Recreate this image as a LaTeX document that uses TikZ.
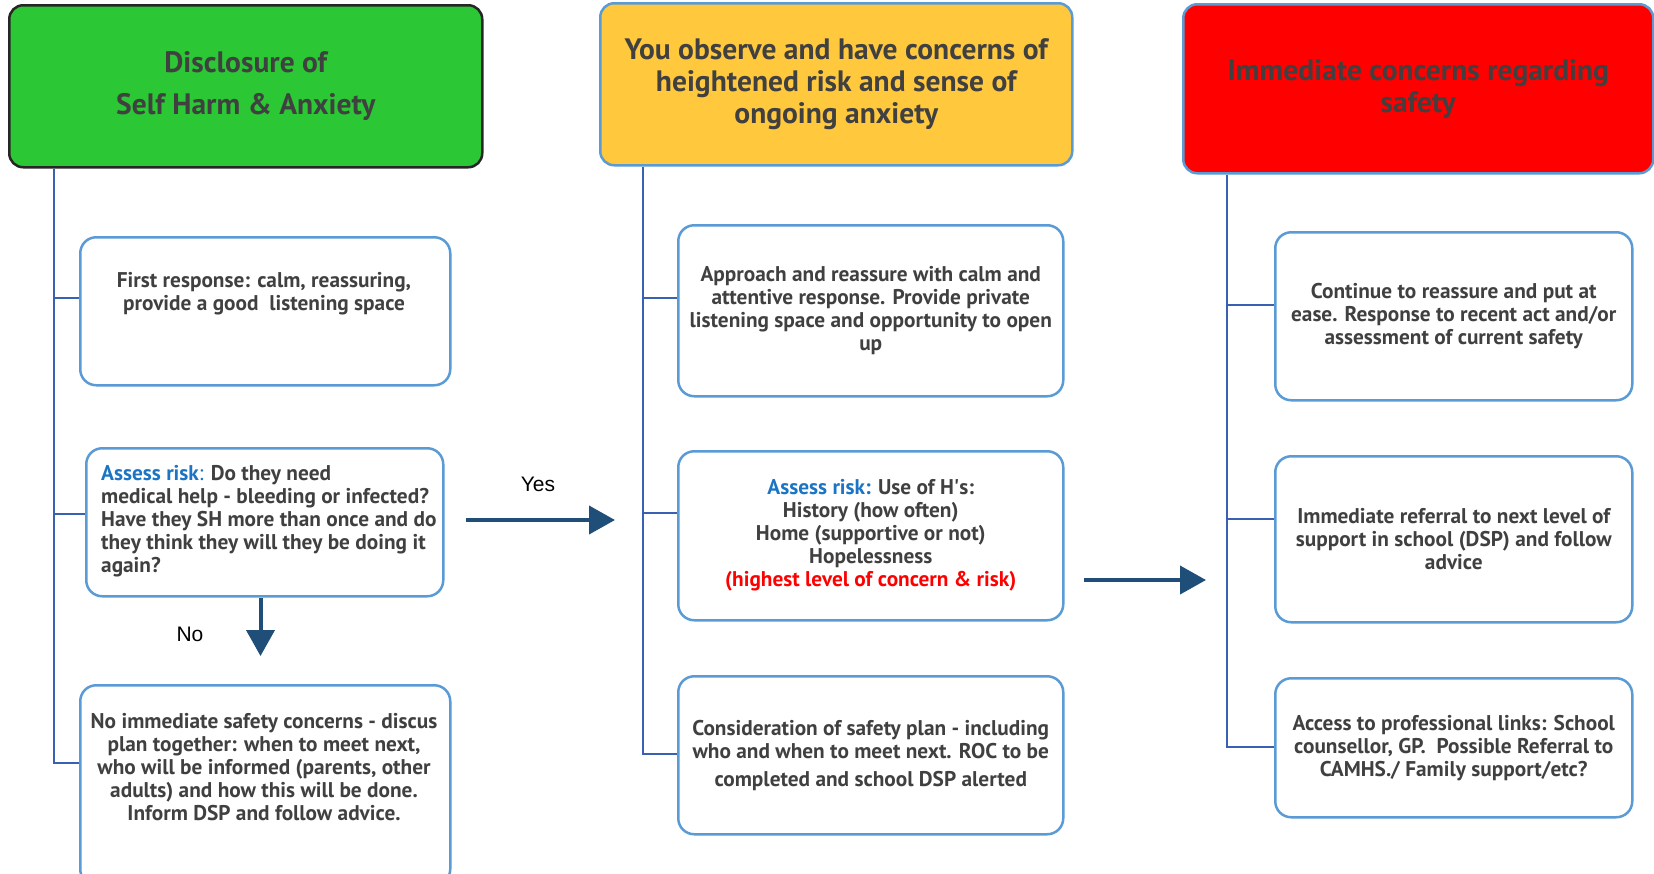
\documentclass[tikz,border=0pt]{standalone}
\usepackage{fontspec}
\setmainfont{PT Sans}
\newfontfamily\arialfont{Liberation Sans}
\usetikzlibrary{arrows.meta}
\definecolor{txt}{HTML}{404040}
\definecolor{boxline}{HTML}{5B9BD5}
\definecolor{conn}{HTML}{3A60B2}
\definecolor{arr}{HTML}{1F4E79}
\definecolor{gfill}{HTML}{2BC734}
\definecolor{yfill}{HTML}{FFC83D}
\definecolor{rfill}{HTML}{FF0000}
\definecolor{blu}{HTML}{1B75C4}
\begin{document}
\begin{tikzpicture}[x=1pt,y=-1pt,
  box/.style={draw=boxline, line width=2.5pt, rounded corners=16pt, fill=white,
    anchor=north west, inner sep=0pt, text=txt, align=center,
    font=\fontsize{21.3}{23}\selectfont\bfseries},
  head/.style={line width=2.5pt, rounded corners=14pt, anchor=north west,
    inner sep=0pt, text=txt, align=center,
    font=\fontsize{29.5}{32}\selectfont\bfseries},
  bodytxt/.style={text=txt, inner sep=0pt, font=\fontsize{21.3}{23}\selectfont\bfseries},
  connline/.style={draw=conn, line width=2.8pt},
  flowarrow/.style={draw=arr, line width=4pt, -{Triangle[length=26pt,width=28pt]}},
  lbl/.style={inner sep=0pt, font=\arialfont\fontsize{21}{24}\selectfont}]
\clip (0,0) rectangle (1654,873);
\fill[white] (0,0) rectangle (1654,873);
% headers
\node[head, fill=gfill, draw=black!85, minimum width=473, minimum height=162] (g) at (8,4)
  {Disclosure of\\[10pt]Self Harm \& Anxiety};
\node[head, fill=yfill, draw=boxline, minimum width=472, minimum height=162] (y) at (599,2)
  {You observe and have concerns of\\heightened risk and sense of\\ongoing anxiety};
\node[head, fill=rfill, draw=boxline, minimum width=470, minimum height=169] (r) at (1182,3)
  {Immediate concerns regarding\\safety};
% left column
\node[box, minimum width=370, minimum height=148] (L1) at (79,236) {};
\node[bodytxt, align=center] (L1t) at (264,294) {First response: calm, reassuring,\\provide a good\ \ listening space};
\node[box, minimum width=357, minimum height=148] (L2) at (85,447) {};
\node[bodytxt, align=left, anchor=west] (L2t) at (101,521)
  {\textcolor{blu}{Assess risk}\textcolor{blu}{\mdseries:} Do they need\\medical help - bleeding or infected?\\Have they SH more than once and do\\they think they will they be doing it\\again?};
\node[box, minimum width=370, minimum height=200] (L3) at (79,684) {};
\node[bodytxt, align=center] (L3t) at (264,767)
  {No immediate safety concerns - discus\\plan together: when to meet next,\\who will be informed (parents, other\\adults) and how this will be done.\\Inform DSP and follow advice.};
% middle column
\node[box, minimum width=385, minimum height=171] (M1) at (677,224)
  {Approach and reassure with calm and\\attentive response. Provide private\\listening space and opportunity to open\\up};
\node[box, minimum width=385, minimum height=169] (M2) at (677,450)
  {\textcolor{blu}{Assess risk:} Use of H\textquotesingle s:\\History (how often)\\Home (supportive or not)\\Hopelessness\\\textcolor{rfill}{(highest level of concern \& risk)}};
\node[box, minimum width=385, minimum height=158] (M3) at (677,675)
  {Consideration of safety plan - including\\who and when to meet next. ROC to be\\[5pt]completed and school DSP alerted};
% right column
\node[box, minimum width=357, minimum height=168] (R1) at (1274,231)
  {Continue to reassure and put at\\ease. Response to recent act and/or\\assessment of current safety};
\node[box, minimum width=357, minimum height=166] (R2) at (1274,455)
  {Immediate referral to next level of\\support in school (DSP) and follow\\advice};
\node[box, minimum width=357, minimum height=139] (R3) at (1274,677)
  {Access to professional links: School\\counsellor, GP.\ \ Possible Referral to\\CAMHS./ Family support/etc?};
% connector coordinates
\coordinate (lv1) at (54,298);
\coordinate (lv2) at (54,514);
\coordinate (lv3) at (54,763);
\coordinate (mv1) at (643,298);
\coordinate (mv2) at (643,513);
\coordinate (mv3) at (643,754);
\coordinate (rv1) at (1227,305);
\coordinate (rv2) at (1227,519);
\coordinate (rv3) at (1227,747);
% trunk lines
\draw[connline] (g.south -| lv3) -- (lv3) -- (lv3 -| L3.west);
\draw[connline] (lv1) -- (lv1 -| L1.west);
\draw[connline] (lv2) -- (lv2 -| L2.west);
\draw[connline] (y.south -| mv3) -- (mv3) -- (mv3 -| M3.west);
\draw[connline] (mv1) -- (mv1 -| M1.west);
\draw[connline] (mv2) -- (mv2 -| M2.west);
\draw[connline] (r.south -| rv3) -- (rv3) -- (rv3 -| R3.west);
\draw[connline] (rv1) -- (rv1 -| R1.west);
\draw[connline] (rv2) -- (rv2 -| R2.west);
% flow arrows
\coordinate (ya) at (466,520);
\coordinate (yb) at (615,520);
\draw[flowarrow] (ya) -- (yb);
\node[lbl] (yes) at (538,484) {Yes};
\coordinate (na) at (260.5,598);
\draw[flowarrow] (na) -- (na |- 0,656);
\node[lbl] (no) at (190,634) {No};
\coordinate (ma) at (1084,580);
\draw[flowarrow] (ma) -- (1206,580);
\end{tikzpicture}
\end{document}
